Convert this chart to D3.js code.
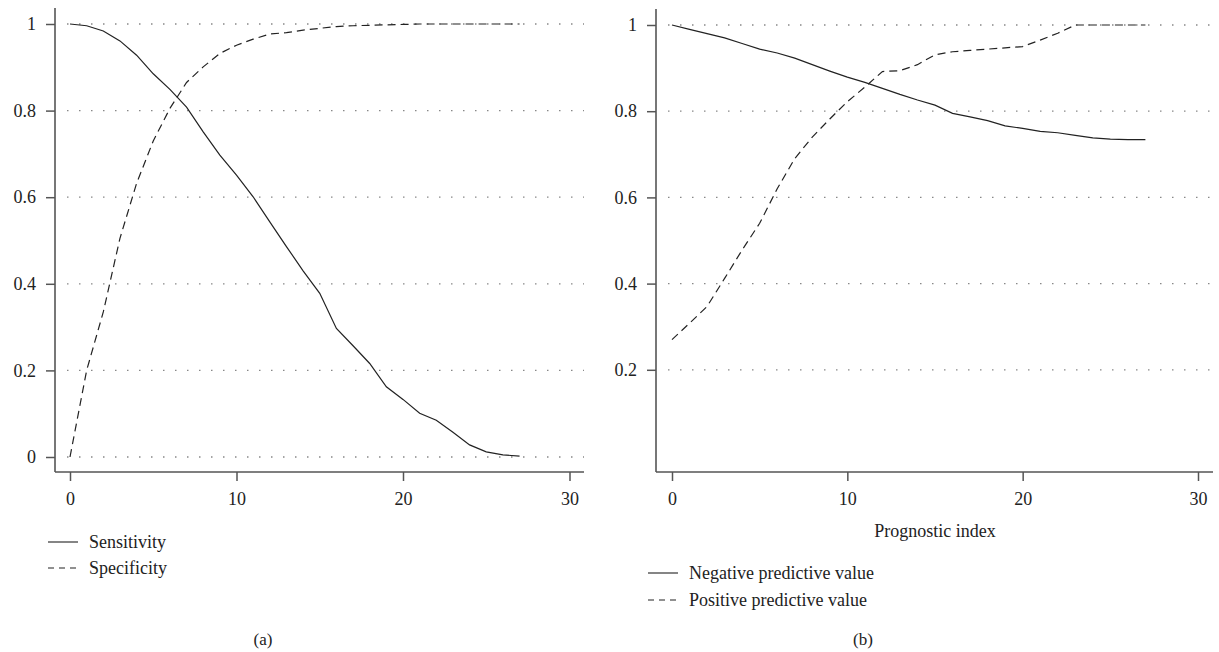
<!DOCTYPE html>
<html>
<head>
<meta charset="utf-8">
<script src="https://cdn.jsdelivr.net/npm/d3@7"></script>
<style>
  body{margin:0;background:#fff;}
  svg{display:block;}
  text{font-family:"Liberation Serif","DejaVu Serif",serif;fill:#222;}
</style>
</head>
<body>
<svg id="chart" width="1219" height="652"></svg>
<script>
// prognostic index 0..27
const index = d3.range(0, 28);

// panel (a)
const sensitivity = [1.0,0.996,0.984,0.961,0.928,0.885,0.849,0.808,0.751,0.697,0.651,0.601,0.543,0.486,0.43,0.378,0.297,0.257,0.216,0.162,0.133,0.101,0.085,0.057,0.028,0.012,0.005,0.002];
const specificity = [0.0,0.2,0.335,0.505,0.632,0.73,0.805,0.865,0.901,0.932,0.951,0.965,0.977,0.98,0.986,0.99,0.994,0.996,0.997,0.998,0.999,1,1,1,1,1,1,1];

// panel (b)
const npv = [1.0,0.99,0.98,0.97,0.957,0.944,0.935,0.923,0.908,0.893,0.879,0.867,0.853,0.839,0.826,0.814,0.795,0.787,0.778,0.766,0.76,0.753,0.75,0.744,0.738,0.735,0.734,0.734];
const ppv = [0.27,0.308,0.347,0.412,0.478,0.54,0.62,0.69,0.74,0.782,0.822,0.856,0.892,0.894,0.908,0.931,0.938,0.941,0.944,0.947,0.95,0.965,0.981,1,1,1,1,1];

const xTicks = [0,10,20,30];
const yTicksA = [0,0.2,0.4,0.6,0.8,1];
const yTicksB = [0.2,0.4,0.6,0.8,1];
const legendA = ['Sensitivity','Specificity'];
const legendB = ['Negative predictive value','Positive predictive value'];

const svg = d3.select('#chart');
const AXIS = '#555', INK = '#222', DASH = '8,5';

function panel(cfg){
  const g = svg.append('g');
  const x = d3.scaleLinear().domain([0,30]).range(cfg.xr);
  const y = d3.scaleLinear().domain([0,1]).range(cfg.yr);

  // dotted grid
  g.selectAll('line.grid').data(cfg.yTicks).enter().append('line')
    .attr('x1', cfg.gridX[0]).attr('x2', cfg.gridX[1])
    .attr('y1', d=>y(d)).attr('y2', d=>y(d))
    .attr('stroke','#888').attr('stroke-width',1.3)
    .attr('stroke-dasharray','1.5,10.5');

  // y axis
  const ya = g.append('g').attr('transform',`translate(${cfg.axX},0)`)
    .call(d3.axisLeft(y).tickValues(cfg.yTicks).tickSize(9).tickPadding(10)
      .tickFormat(d=> d===1?'1':d===0?'0':d3.format('.1f')(d)));
  ya.select('.domain').remove();
  ya.append('line').attr('x1',0).attr('x2',0).attr('y1',cfg.axTop).attr('y2',cfg.axY)
    .attr('stroke',AXIS).attr('stroke-width',1.6);

  // x axis
  const xa = g.append('g').attr('transform',`translate(0,${cfg.axY})`)
    .call(d3.axisBottom(x).tickValues(xTicks).tickSize(9).tickPadding(11));
  xa.select('.domain').remove();
  xa.append('line').attr('x1',cfg.axX).attr('x2',cfg.axRight).attr('y1',0).attr('y2',0)
    .attr('stroke',AXIS).attr('stroke-width',1.6);

  [ya, xa].forEach(a=>{
    a.selectAll('.tick line').attr('stroke',AXIS).attr('stroke-width',1.5);
    a.selectAll('.tick text').attr('font-size',18).attr('font-family','Liberation Serif').attr('fill',INK);
  });

  const line = d3.line().x((d,i)=>x(index[i])).y(d=>y(d));
  g.append('path').datum(cfg.solid).attr('d',line)
    .attr('fill','none').attr('stroke',INK).attr('stroke-width',1.2);
  g.append('path').datum(cfg.dashed).attr('d',line)
    .attr('fill','none').attr('stroke',INK).attr('stroke-width',1.2)
    .attr('stroke-dasharray',DASH);

  if(cfg.xLabel){
    g.append('text').attr('x',cfg.xLabel[1]).attr('y',cfg.xLabel[2])
      .attr('text-anchor','middle').attr('font-size',18).text(cfg.xLabel[0]);
  }

  // legend
  cfg.legend.forEach((name,i)=>{
    const ly = cfg.legY[i];
    g.append('line').attr('x1',cfg.legX).attr('x2',cfg.legX+30)
      .attr('y1',ly).attr('y2',ly).attr('stroke',INK).attr('stroke-width',1.1)
      .attr('stroke-dasharray', i===1 ? '6,5' : null);
    g.append('text').attr('x',cfg.legX+41).attr('y',ly+6)
      .attr('font-size',18).text(name);
  });

  g.append('text').attr('x',cfg.tag[1]).attr('y',cfg.tag[2])
    .attr('text-anchor','middle').attr('font-size',17).text(cfg.tag[0]);
}

panel({
  xr:[70,569.5], yr:[457,24], yTicks:yTicksA,
  axX:55, axTop:8, axY:472, axRight:584, gridX:[67,584],
  solid:sensitivity, dashed:specificity,
  legend:legendA, legX:48, legY:[542,568],
  tag:['(a)',263,645]
});

panel({
  xr:[672,1198], yr:[456,25], yTicks:yTicksB,
  axX:656, axTop:9, axY:472, axRight:1213, gridX:[668,1212],
  solid:npv, dashed:ppv, xLabel:['Prognostic index',935,537],
  legend:legendB, legX:648, legY:[573,600],
  tag:['(b)',863,645]
});
</script>
</body>
</html>
